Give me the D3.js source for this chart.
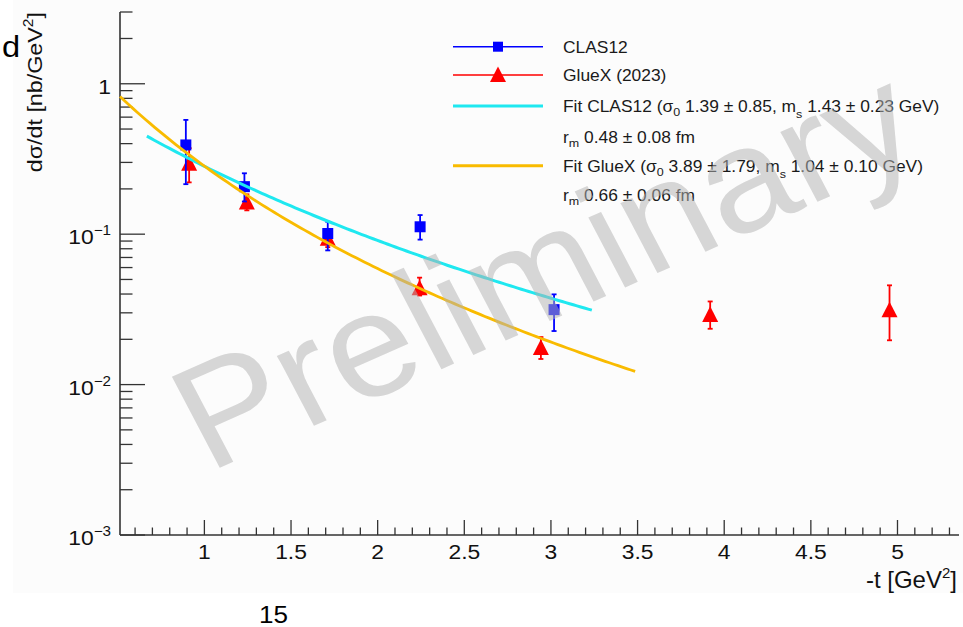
<!DOCTYPE html>
<html>
<head>
<meta charset="utf-8">
<script src="https://cdn.jsdelivr.net/npm/d3@7"></script>
<style>
  html, body { margin: 0; padding: 0; background: #ffffff; }
  svg { display: block; font-family: "Liberation Sans", Arial, Helvetica, sans-serif; }
</style>
</head>
<body>
<svg id="chart" width="963" height="627"></svg>
<script>
// ---- CLAS12 measurements: -t [GeV^2], dσ/dt [nb/GeV^2], errors ----
const clasT       = [0.893, 1.231, 1.712, 2.245, 3.018];
const clasXsec    = [0.392, 0.207, 0.101, 0.112, 0.0315];
const clasErrUp   = [0.183, 0.047, 0.020, 0.022, 0.0083];
const clasErrDown = [0.177, 0.042, 0.023, 0.020, 0.0088];

// ---- GlueX (2023) measurements ----
const gluexT       = [0.912, 1.245, 1.712, 2.242, 2.942, 3.919, 4.954];
const gluexXsec    = [0.297, 0.164, 0.094, 0.0441, 0.0177, 0.0293, 0.0315];
const gluexErrUp   = [0.076, 0.020, 0.012, 0.0073, 0.0030, 0.0064, 0.0142];
const gluexErrDown = [0.076, 0.020, 0.012, 0.0050, 0.0029, 0.0058, 0.0118];

// ---- Tripole fits dσ/dt = σ0 / (1 + |t|/ms²)^4 ----
const fitNames     = ["Fit CLAS12", "Fit GlueX"];
const fitSigma0    = [1.39, 3.89];
const fitSigma0Err = [0.85, 1.79];
const fitMs        = [1.43, 1.04];
const fitMsErr     = [0.23, 0.10];
const fitRm        = [0.48, 0.66];
const fitRmErr     = [0.08, 0.06];
const fitTmin      = [0.668, 0.513];
const fitTmax      = [3.236, 3.486];

// ---- Axes ----
const xDomain = [0.513, 5.355];
const yDomain = [1e-3, 3];
const xMajorTicks = [1, 1.5, 2, 2.5, 3, 3.5, 4, 4.5, 5];
const xTickLabels = ["1", "1.5", "2", "2.5", "3", "3.5", "4", "4.5", "5"];
const yMajorTicks = [1e-3, 1e-2, 1e-1, 1];
const yTickExps   = ["\u22123", "\u22122", "\u22121", null];

const colBlue = "#0000ff", colRed = "#ff0000", colCyan = "#1fe8f0", colGold = "#f9bb00";
const WIDE = 1.087;   // horizontal stretch of the slide's lettering

const svg = d3.select("#chart");

// slightly off-white slide area behind the plot
svg.append("rect").attr("x", 13).attr("y", 0).attr("width", 950).attr("height", 593)
  .attr("fill", "#fcfcfc");

const x = d3.scaleLinear().domain(xDomain).range([120, 959]);
const y = d3.scaleLog().domain(yDomain).range([535, 12]);

function placeText(sel, px, py) {
  return sel.attr("transform", `translate(${px},${py}) scale(${WIDE},1)`);
}

const axisCol = "#333333";
const gAxes = svg.append("g");

// axis lines
gAxes.append("line").attr("x1", x(xDomain[0])).attr("x2", x(xDomain[1]))
  .attr("y1", y(yDomain[0])).attr("y2", y(yDomain[0]))
  .attr("stroke", axisCol).attr("stroke-width", 1.6);
gAxes.append("line").attr("x1", x(xDomain[0])).attr("x2", x(xDomain[0]))
  .attr("y1", y(yDomain[0])).attr("y2", y(yDomain[1]))
  .attr("stroke", axisCol).attr("stroke-width", 1.6);

// x ticks (inward)
const xMinor = d3.range(6, 54).map(d => d / 10)
  .filter(d => d > xDomain[0] && d < xDomain[1] && !xMajorTicks.some(m => Math.abs(m - d) < 1e-9));
gAxes.selectAll(".xminor").data(xMinor).join("line")
  .attr("x1", d => x(d)).attr("x2", d => x(d))
  .attr("y1", y(yDomain[0])).attr("y2", y(yDomain[0]) - 7.5)
  .attr("stroke", axisCol).attr("stroke-width", 1.3);
gAxes.selectAll(".xmajor").data(xMajorTicks).join("line")
  .attr("x1", d => x(d)).attr("x2", d => x(d))
  .attr("y1", y(yDomain[0])).attr("y2", y(yDomain[0]) - 15)
  .attr("stroke", axisCol).attr("stroke-width", 1.3);
gAxes.selectAll(".xlab").data(xMajorTicks).join("text")
  .each(function(d) { placeText(d3.select(this), x(d), 559); })
  .attr("text-anchor", "middle").attr("font-size", 21).attr("fill", "#111")
  .text((d, i) => xTickLabels[i]);

// y ticks (inward)
const yMinor = [];
[1e-3, 1e-2, 1e-1, 1].forEach(dec => {
  for (let k = 2; k <= 9; k++) {
    const v = dec * k;
    if (v < yDomain[1] * 1.0001) yMinor.push(v);
  }
});
gAxes.selectAll(".yminor").data(yMinor).join("line")
  .attr("x1", x(xDomain[0])).attr("x2", x(xDomain[0]) + 12.5)
  .attr("y1", d => y(d)).attr("y2", d => y(d))
  .attr("stroke", axisCol).attr("stroke-width", 1.3);
gAxes.selectAll(".ymajor").data(yMajorTicks).join("line")
  .attr("x1", x(xDomain[0])).attr("x2", x(xDomain[0]) + 25)
  .attr("y1", d => y(d)).attr("y2", d => y(d))
  .attr("stroke", axisCol).attr("stroke-width", 1.3);
const yLab = gAxes.selectAll(".ylab").data(yMajorTicks).join("text")
  .each(function(d) { placeText(d3.select(this), 111, y(d) + 10); })
  .attr("text-anchor", "end").attr("font-size", 21).attr("fill", "#111");
yLab.each(function(d, i) {
  const t = d3.select(this);
  if (yTickExps[i] === null) { t.text("1"); return; }
  t.append("tspan").text("10");
  t.append("tspan").attr("font-size", 14).attr("dy", -9).text(yTickExps[i]);
});

// axis titles
const xTitle = svg.append("text").attr("x", 957).attr("y", 588)
  .attr("text-anchor", "end").attr("font-size", 24).attr("fill", "#111");
xTitle.append("tspan").text("-t [GeV");
xTitle.append("tspan").attr("font-size", 15).attr("dy", -10).text("2");
xTitle.append("tspan").attr("dy", 10).text("]");

const yTitle = svg.append("text").attr("transform", "translate(42,12) scale(1,1.11) rotate(-90)")
  .attr("text-anchor", "end").attr("font-size", 21).attr("fill", "#111");
yTitle.append("tspan").text("d\u03c3/dt [nb/GeV");
yTitle.append("tspan").attr("font-size", 14).attr("dy", -9).text("2");
yTitle.append("tspan").attr("dy", 9).text("]");

// stray slide text
placeText(svg.append("text"), 2, 57).attr("font-size", 30).attr("fill", "#000").text("d");
placeText(svg.append("text"), 259, 623).attr("font-size", 24).attr("fill", "#000").text("15");

// ---- data points ----
const plot = svg.append("g");

function errorBars(g, tArr, vArr, up, down, col) {
  const d = tArr.map((t, i) => ({ t, v: vArr[i], hi: vArr[i] + up[i], lo: vArr[i] - down[i] }));
  g.selectAll(null).data(d).join("line")
    .attr("x1", p => x(p.t)).attr("x2", p => x(p.t))
    .attr("y1", p => y(p.hi)).attr("y2", p => y(p.lo))
    .attr("stroke", col).attr("stroke-width", 1.8);
  ["hi", "lo"].forEach(k => {
    g.selectAll(null).data(d).join("line")
      .attr("x1", p => x(p.t) - 2.5).attr("x2", p => x(p.t) + 2.5)
      .attr("y1", p => y(p[k])).attr("y2", p => y(p[k]))
      .attr("stroke", col).attr("stroke-width", 1.8);
  });
}
function squarePath(cx, cy, h) {
  return `M${cx - h},${cy - h}H${cx + h}V${cy + h}H${cx - h}Z`;
}
function trianglePath(cx, cy, h) {
  return `M${cx},${cy - h}L${cx + h},${cy + h * 0.95}L${cx - h},${cy + h * 0.95}Z`;
}

const gGluex = plot.append("g");
errorBars(gGluex, gluexT, gluexXsec, gluexErrUp, gluexErrDown, colRed);
gGluex.selectAll(null).data(gluexT).join("path")
  .attr("d", (t, i) => trianglePath(x(t), y(gluexXsec[i]), 8))
  .attr("fill", colRed);

const gClas = plot.append("g");
errorBars(gClas, clasT, clasXsec, clasErrUp, clasErrDown, colBlue);
gClas.selectAll(null).data(clasT).join("path")
  .attr("d", (t, i) => squarePath(x(t), y(clasXsec[i]), 5.5))
  .attr("fill", colBlue);

// ---- fit curves ----
const fitCols = [colCyan, colGold];
const fitWidths = [3, 2.8];
const line = d3.line().x(d => x(d[0])).y(d => y(d[1]));
fitNames.forEach((name, k) => {
  const ms2 = fitMs[k] * fitMs[k];
  const n = 120;
  const pts = d3.range(n + 1).map(j => {
    const t = fitTmin[k] + (fitTmax[k] - fitTmin[k]) * j / n;
    return [t, fitSigma0[k] / Math.pow(1 + t / ms2, 4)];
  });
  plot.append("path").datum(pts).attr("d", line)
    .attr("fill", "none").attr("stroke", fitCols[k]).attr("stroke-width", fitWidths[k]);
});

// ---- legend ----
const leg = svg.append("g").attr("font-size", 16).attr("fill", "#1a1a1a");
const legRowY = [46.7, 75, 106, 136.7, 165.7, 195];
const lx0 = 453, lx1 = 543, lmid = 498, ltx = 563;

function legText(rowY, parts) {
  const t = placeText(leg.append("text"), ltx, rowY + 6);
  let shift = 0;
  parts.forEach(p => {
    const s = t.append("tspan").text(p.s);
    const target = p.sub ? p.sub : 0;
    if (target !== shift) { s.attr("dy", target - shift); shift = target; }
    if (p.sub) s.attr("font-size", 11.5);
  });
}

// CLAS12 entry
leg.append("line").attr("x1", lx0).attr("x2", lx1).attr("y1", legRowY[0]).attr("y2", legRowY[0])
  .attr("stroke", colBlue).attr("stroke-width", 1.6);
leg.append("path").attr("d", squarePath(lmid, legRowY[0], 5)).attr("fill", colBlue);
legText(legRowY[0], [{ s: "CLAS12" }]);

// GlueX entry
leg.append("line").attr("x1", lx0).attr("x2", lx1).attr("y1", legRowY[1]).attr("y2", legRowY[1])
  .attr("stroke", colRed).attr("stroke-width", 1.6);
leg.append("path").attr("d", trianglePath(lmid, legRowY[1] - 0.5, 8)).attr("fill", colRed);
legText(legRowY[1], [{ s: "GlueX (2023)" }]);

// fit entries
[[2, 3], [4, 5]].forEach(([r1, r2], k) => {
  leg.append("line").attr("x1", lx0).attr("x2", lx1).attr("y1", legRowY[r1]).attr("y2", legRowY[r1])
    .attr("stroke", fitCols[k]).attr("stroke-width", 3);
  legText(legRowY[r1], [
    { s: fitNames[k] + " (\u03c3" },
    { s: "0", sub: 4 },
    { s: ` ${fitSigma0[k].toFixed(2)} \u00b1 ${fitSigma0Err[k].toFixed(2)}, m` },
    { s: "s", sub: 6 },
    { s: ` ${fitMs[k].toFixed(2)} \u00b1 ${fitMsErr[k].toFixed(2)} GeV)` }
  ]);
  legText(legRowY[r2], [
    { s: "r" },
    { s: "m", sub: 4 },
    { s: ` ${fitRm[k].toFixed(2)} \u00b1 ${fitRmErr[k].toFixed(2)} fm` }
  ]);
});

// ---- watermark ----
svg.append("text")
  .attr("transform", `translate(208,473) scale(${WIDE},1) rotate(-25.8)`)
  .attr("text-anchor", "start")
  .attr("font-size", 147)
  .attr("fill", "#b2b2b2")
  .attr("fill-opacity", 0.52)
  .text("Preliminary");
</script>
</body>
</html>
